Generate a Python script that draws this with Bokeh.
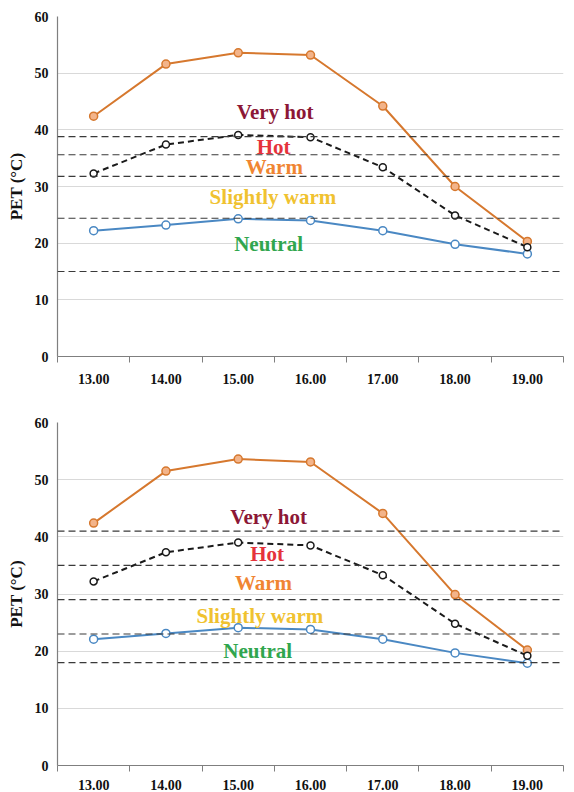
from bokeh.plotting import figure
from bokeh.layouts import column
from bokeh.models import FixedTicker, Span, Label, ColumnDataSource, Range1d
from bokeh.embed import file_html
from bokeh.resources import INLINE

# ---------------- data ----------------
hours = ["13.00", "14.00", "15.00", "16.00", "17.00", "18.00", "19.00"]

top_orange = [42.4, 51.6, 53.6, 53.2, 44.2, 30.0, 20.3]
top_black = [32.3, 37.4, 39.1, 38.7, 33.4, 24.9, 19.3]
top_blue = [22.2, 23.2, 24.3, 24.0, 22.2, 19.8, 18.1]
top_thresholds = [38.8, 35.6, 31.8, 24.4, 15.0]

bot_orange = [42.4, 51.5, 53.6, 53.1, 44.1, 29.9, 20.2]
bot_black = [32.2, 37.3, 39.0, 38.5, 33.3, 24.8, 19.2]
bot_blue = [22.1, 23.1, 24.1, 23.8, 22.1, 19.7, 17.9]
bot_thresholds = [41, 35, 29, 23, 18]

zone_names = ["Very hot", "Hot", "Warm", "Slightly warm", "Neutral"]
y_ticks = [0, 10, 20, 30, 40, 50, 60]

# ---------------- styles ----------------
zone_colors = ["#8C1736", "#E5333B", "#F08532", "#F0C230", "#30A64E"]
ORANGE = "#D6782E"
BLUE = "#4A88C3"
FONT = "Liberation Serif"


def make_fig(orange, black, blue, thresholds, label_pos, height, borders, xstand):
    bt, bb, bl, br = borders
    p = figure(width=574, height=height, output_backend="svg", toolbar_location=None,
               x_range=Range1d(-0.5, 6.5), y_range=Range1d(0, 60),
               min_border_top=bt, min_border_bottom=bb, min_border_left=bl,
               min_border_right=br)
    p.outline_line_color = None
    p.background_fill_color = "white"
    idx = list(range(len(hours)))

    # axes
    xa = p.xaxis[0]
    xa.ticker = FixedTicker(ticks=idx, minor_ticks=[i - 0.5 for i in range(len(hours) + 1)])
    xa.major_label_overrides = {i: h for i, h in enumerate(hours)}
    xa.major_tick_out = 0
    xa.major_tick_in = 0
    xa.minor_tick_out = 6
    xa.minor_tick_in = 0
    xa.minor_tick_line_color = "#7f7f7f"
    xa.axis_line_color = "#7f7f7f"
    xa.axis_line_width = 1.2
    xa.major_label_text_font = FONT
    xa.major_label_text_font_style = "bold"
    xa.major_label_text_font_size = "14px"
    xa.major_label_text_color = "#111111"
    xa.major_label_standoff = xstand

    ya = p.yaxis[0]
    ya.ticker = FixedTicker(ticks=y_ticks)
    ya.major_tick_out = 0
    ya.major_tick_in = 0
    ya.minor_tick_out = 0
    ya.minor_tick_in = 0
    ya.axis_line_color = "#7f7f7f"
    ya.axis_line_width = 1.2
    ya.major_label_text_font = FONT
    ya.major_label_text_font_style = "bold"
    ya.major_label_text_font_size = "14px"
    ya.major_label_text_color = "#111111"
    ya.major_label_standoff = 9
    ya.axis_label = "PET (°C)"
    ya.axis_label_text_font = FONT
    ya.axis_label_text_font_style = "bold"
    ya.axis_label_text_font_size = "17px"
    ya.axis_label_text_color = "#111111"
    ya.axis_label_standoff = 6

    p.xgrid.grid_line_color = None
    p.ygrid.ticker = FixedTicker(ticks=y_ticks)
    p.ygrid.grid_line_color = "#d9d9d9"
    p.ygrid.grid_line_width = 1

    # threshold lines
    for t in thresholds:
        p.add_layout(Span(location=t, dimension="width", line_color="#3a3a3a",
                          line_width=1.2, line_dash="7 4"))

    src = ColumnDataSource(dict(x=idx, o=orange, k=black, b=blue))
    p.line("x", "o", source=src, line_color=ORANGE, line_width=2)
    p.scatter("x", "o", source=src, size=8, marker="circle", line_color=ORANGE,
              fill_color="#F3B48A", line_width=1.5)
    p.line("x", "b", source=src, line_color=BLUE, line_width=2)
    p.scatter("x", "b", source=src, size=8, marker="circle", line_color=BLUE,
              fill_color="white", line_width=1.5)
    p.line("x", "k", source=src, line_color="#1a1a1a", line_width=2, line_dash="6 4")
    p.scatter("x", "k", source=src, size=7, marker="circle", line_color="#1a1a1a",
              fill_color="white", line_width=1.5)

    for name, col, (lx, ly) in zip(zone_names, zone_colors, label_pos):
        p.add_layout(Label(x=lx, y=ly, text=name, text_color=col, text_font=FONT,
                           text_font_style="bold", text_font_size="21px",
                           text_align="center", text_baseline="middle"))
    return p


top_label_pos = [(2.51, 43.2), (2.49, 37.0), (2.5, 33.4), (2.48, 28.2), (2.42, 19.9)]
bot_label_pos = [(2.42, 43.5), (2.4, 37.0), (2.35, 31.9), (2.3, 26.2), (2.27, 20.1)]

p1 = make_fig(top_orange, top_black, top_blue, top_thresholds, top_label_pos,
              396, (16, 40, 57, 11), 11)
p2 = make_fig(bot_orange, bot_black, bot_blue, bot_thresholds, bot_label_pos,
              396, (26, 23, 55, 6), 8)

layout = column(p1, p2, spacing=0)
open("out.html", "w").write(file_html(layout, INLINE))
